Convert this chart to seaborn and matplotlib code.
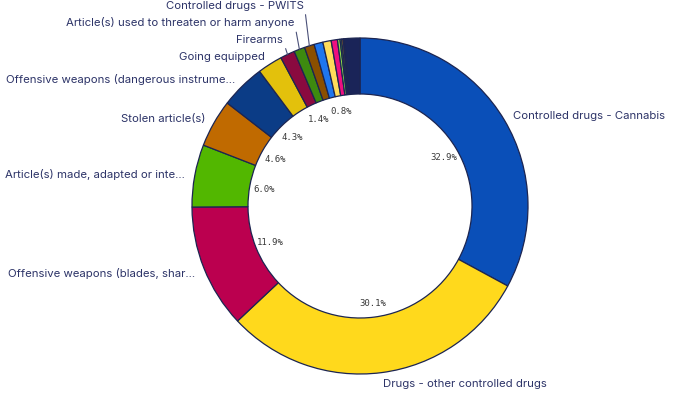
import numpy as np
import matplotlib
matplotlib.use("Agg")
import matplotlib.pyplot as plt
import seaborn as sns

# slice order = clockwise from 12 o'clock
categories = [
    "Controlled drugs - Cannabis",
    "Drugs - other controlled drugs",
    "Offensive weapons (blades, shar...",
    "Article(s) made, adapted or inte...",
    "Stolen article(s)",
    "Offensive weapons (dangerous instrume...",
    "Going equipped",
    "Firearms",
    "Article(s) used to threaten or harm anyone",
    "Controlled drugs - PWITS",
    "", "", "", "", "", "", "", "",
]
values = [32.9, 30.1, 11.9, 6.0, 4.6, 4.3, 2.4, 1.4, 1.05, 0.95,
          0.85, 0.8, 0.6, 0.25, 0.15, 0.15, 0.1, 1.5]
colors = ["#0a4fb8", "#ffd91c", "#bb004f", "#52b700", "#c06a00", "#0b3c86",
          "#e3c10c", "#8a0a3f", "#3d8a0f", "#8a4f00", "#1f76ee", "#ffdc5a",
          "#ee0f80", "#8fe04a", "#5fd10f", "#f08c00", "#1a3070", "#1a2458"]
# which slices get a percentage label inside the ring
pct_shown = [0, 1, 2, 3, 4, 5, 7, 11]
# small slices whose names sit above the ring with leader lines
stacked = [7, 8, 9]

W, H = 678, 410
cx, cy = 360, 203
R = 168
ring = 56

sns.set_theme(style="white")
plt.rcParams["font.family"] = ["Inter", "DejaVu Sans"]

fig = plt.figure(figsize=(W / 100, H / 100), dpi=100)
ax = fig.add_axes([0, 0, 1, 1])

wedges, _ = ax.pie(
    values,
    colors=colors,
    startangle=90,
    counterclock=False,
    radius=R,
    center=(cx, cy),
    wedgeprops=dict(width=ring, edgecolor="#1c2551", linewidth=0.9),
)
ax.set_xlim(0, W)
ax.set_ylim(0, H)
ax.set_aspect("equal")
ax.axis("off")

text_col = "#2d3468"
fs = 8.2
total = sum(values)
for i, w in enumerate(wedges):
    ang = np.deg2rad((w.theta1 + w.theta2) / 2)
    ux, uy = np.cos(ang), np.sin(ang)
    if i in pct_shown:
        ax.text(cx + 97 * ux, cy + 97 * uy, f"{values[i] / total * 100:.1f}%",
                ha="center", va="center", fontsize=6.5, color="#3a3a3a",
                family="DejaVu Sans Mono")
    if not categories[i]:
        continue
    if i in stacked:
        k = stacked.index(i)
        px, py = cx + R * ux, cy + R * uy
        ty = cy + R - 1 + 17 * k
        ax.annotate(categories[i], xy=(px, py), xytext=(px - 5, ty),
                    ha="right", va="center", fontsize=fs, color=text_col,
                    arrowprops=dict(arrowstyle="-", color="#4a5078", lw=0.8,
                                    shrinkA=1, shrinkB=0, relpos=(1, 0.5)))
    else:
        ax.text(cx + (R + 10) * ux, cy + (R + 10) * uy, categories[i],
                ha="left" if ux > 0 else "right", va="center",
                fontsize=fs, color=text_col)

fig.savefig("out.png", dpi=100)
